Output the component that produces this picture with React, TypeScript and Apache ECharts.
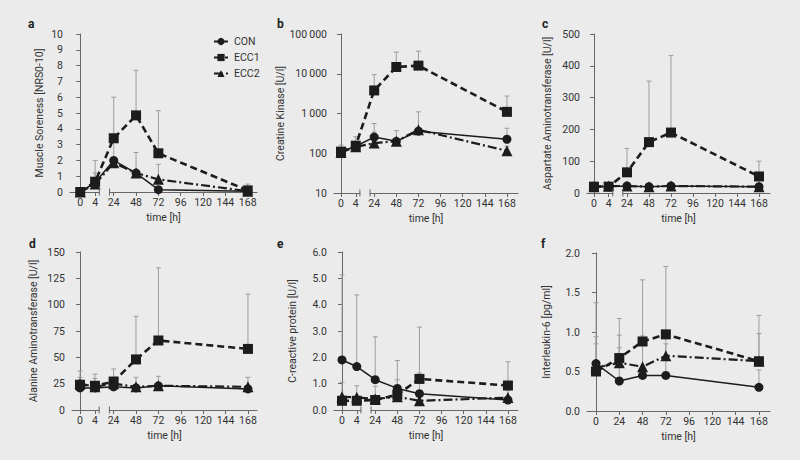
import React, { useEffect, useRef } from "react";
import * as echarts from "echarts";

// ---------- data ----------
const NAMES = ["CON", "ECC1", "ECC2"];
const TIMES = [0, 4, 24, 48, 72, 168];
const TIMES_F = [0, 24, 48, 72, 168];
const TICK_TIMES = [0, 4, 24, 48, 72, 96, 120, 144, 168];
const TICK_TIMES_F = [0, 24, 48, 72, 96, 120, 144, 168];

// a: Muscle soreness
const aCON = [0, 0.6, 2.0, 1.2, 0.15, 0.05];
const aECC1 = [0, 0.65, 3.4, 4.85, 2.45, 0.1];
const aECC2 = [0, 0.5, 1.85, 1.2, 0.8, 0.05];
const aErrCON = [null, 1.2, 3.6, 2.5, null, null];
const aErrECC1 = [null, 2.0, 6.0, 7.7, 5.15, 0.5];
const aErrECC2 = [null, null, null, null, 1.75, null];

// b: Creatine kinase
const bCON = [110, 150, 255, 200, 360, 225];
const bECC1 = [110, 155, 3800, 14800, 16000, 1100];
const bECC2 = [105, 145, 180, 200, 390, 115];
const bErrCON = [160, 260, 560, 370, 1100, 425];
const bErrECC1 = [null, null, 9500, 35000, 37000, 2750];
const bErrECC2 = [null, null, 340, null, null, 150];

// c: AST
const cCON = [20, 20, 22, 20, 22, 20];
const cECC1 = [20, 20, 65, 160, 190, 52];
const cECC2 = [20, 22, 22, 20, 22, 20];
const cErrCON = [null, null, null, null, null, null];
const cErrECC1 = [null, null, 140, 352, 432, 100];
const cErrECC2 = [null, null, null, null, null, null];

// d: ALT
const dCON = [21, 21, 22, 21, 23, 20];
const dECC1 = [24, 23, 27, 48, 66, 58];
const dECC2 = [25, 22, 25, 22, 23, 22];
const dErrCON = [31, 30, 31, 31, 32, 31];
const dErrECC1 = [37, 34, 39, 89, 135, 110];
const dErrECC2 = [null, null, null, null, null, null];

// e: CRP
const eCON = [1.9, 1.65, 1.15, 0.82, 0.62, 0.38];
const eECC1 = [0.35, 0.35, 0.38, 0.58, 1.18, 0.93];
const eECC2 = [0.5, 0.48, 0.42, 0.5, 0.35, 0.47];
const eErrCON = [5.13, 4.37, 2.78, 1.88, 1.4, null];
const eErrECC1 = [null, null, null, null, 3.15, 1.83];
const eErrECC2 = [1.05, 0.92, 0.9, 1.15, null, 0.75];

// f: IL-6
const fCON = [0.6, 0.38, 0.45, 0.45, 0.3];
const fECC1 = [0.5, 0.67, 0.88, 0.97, 0.63];
const fECC2 = [0.55, 0.61, 0.56, 0.7, 0.63];
const fErrCON = [0.85, 0.8, null, 0.85, 0.52];
const fErrECC1 = [1.37, 1.17, 1.66, 1.83, 1.21];
const fErrECC2 = [0.94, 0.96, 0.95, 0.98, 0.98];

// ---------- styling ----------
const BG = "#ebebeb";
const FONT = "Roboto";
const FS = 10.5;
const INK = "#1c1c1c";
const AXIS = "#666";
const TXT = "#333";

// broken time axis: 0..4 stretched, gap, then linear from 24
const brk = (t: number) => (t <= 4 ? t * 4 : 36 + (t - 24));
const lin = (t: number) => t;

type Panel = {
  label: string;
  yName: string;
  nameGap: number;
  grid: { left: number; top: number; width: number; height: number };
  xMin: number;
  xMax: number;
  broken: boolean;
  times: number[];
  ticks: number[];
  vals: number[][];
  errs: (number | null)[][];
  y: any;
  labelPos: [number, number];
};

const fmt1 = (v: number) => v.toFixed(1);
const fmtThousands = (v: number) =>
  String(Math.round(v)).replace(/\B(?=(\d{3})+(?!\d))/g, "\u2009");

const PANELS: Panel[] = [
  {
    label: "a", yName: "Muscle Soreness [NRS0-10]", nameGap: 25,
    grid: { left: 70, top: 34, width: 187, height: 158 }, xMin: -11, xMax: 190,
    broken: true, times: TIMES, ticks: TICK_TIMES,
    vals: [aCON, aECC1, aECC2], errs: [aErrCON, aErrECC1, aErrECC2],
    y: { type: "value", min: 0, max: 10, interval: 1 }, labelPos: [31, 25],
  },
  {
    label: "b", yName: "Creatine Kinase [U/l]", nameGap: 46,
    grid: { left: 334, top: 34, width: 184, height: 159 }, xMin: -7.6, xMax: 192,
    broken: true, times: TIMES, ticks: TICK_TIMES,
    vals: [bCON, bECC1, bECC2], errs: [bErrCON, bErrECC1, bErrECC2],
    y: { type: "log", logBase: 10, min: 10, max: 100000, axisLabel: { formatter: fmtThousands } },
    labelPos: [280, 25],
  },
  {
    label: "c", yName: "Aspartate Aminotransferase [U/l]", nameGap: 34,
    grid: { left: 587, top: 34, width: 183, height: 159 }, xMin: -7.6, xMax: 192,
    broken: true, times: TIMES, ticks: TICK_TIMES,
    vals: [cCON, cECC1, cECC2], errs: [cErrCON, cErrECC1, cErrECC2],
    y: { type: "value", min: 0, max: 500, interval: 100 }, labelPos: [545, 25],
  },
  {
    label: "d", yName: "Alanine Aminotransferase [U/l]", nameGap: 33,
    grid: { left: 72, top: 252, width: 185, height: 158 }, xMin: -8.6, xMax: 189.7,
    broken: true, times: TIMES, ticks: TICK_TIMES,
    vals: [dCON, dECC1, dECC2], errs: [dErrCON, dErrECC1, dErrECC2],
    y: { type: "value", min: 0, max: 150, interval: 25 }, labelPos: [32, 245],
  },
  {
    label: "e", yName: "C-reactive protein [U/l]", nameGap: 36,
    grid: { left: 334, top: 252, width: 184, height: 158 }, xMin: -8.7, xMax: 190.9,
    broken: true, times: TIMES, ticks: TICK_TIMES,
    vals: [eCON, eECC1, eECC2], errs: [eErrCON, eErrECC1, eErrECC2],
    y: { type: "value", min: 0, max: 6, interval: 1, axisLabel: { formatter: fmt1 } },
    labelPos: [280, 245],
  },
  {
    label: "f", yName: "Interleukin-6 [pg/ml]", nameGap: 35,
    grid: { left: 587, top: 253, width: 183, height: 158 }, xMin: -9.3, xMax: 179.4,
    broken: false, times: TIMES_F, ticks: TICK_TIMES_F,
    vals: [fCON, fECC1, fECC2], errs: [fErrCON, fErrECC1, fErrECC2],
    y: { type: "value", min: 0, max: 2, interval: 0.5, axisLabel: { formatter: fmt1 } },
    labelPos: [544, 245],
  },
];

const SYMBOLS = ["circle", "rect", "triangle"];
const SYM_SIZE = [9, 10, 11];
const LINE_STYLES: any[] = [
  { color: INK, width: 1.5, type: "solid" },
  { color: INK, width: 2.6, type: [7, 4] },
  { color: INK, width: 2.2, type: [9, 3, 2, 3] },
];

function buildOption() {
  const grid: any[] = [];
  const xAxis: any[] = [];
  const yAxis: any[] = [];
  const series: any[] = [];
  const graphic: any[] = [];

  PANELS.forEach((p, i) => {
    const xmap = p.broken ? brk : lin;
    grid.push({ ...p.grid, containLabel: false });
    const tickVals = p.ticks.map(xmap);
    xAxis.push({
      type: "value", gridIndex: i, min: p.xMin, max: p.xMax,
      name: "time [h]", nameLocation: "middle", nameGap: 20,
      nameTextStyle: { fontFamily: FONT, fontSize: FS, color: TXT },
      axisLine: { show: true, lineStyle: { color: AXIS, width: 1 } },
      axisTick: { show: true, customValues: tickVals, length: 4, lineStyle: { color: AXIS } },
      axisLabel: {
        customValues: tickVals, margin: 5, fontFamily: FONT, fontSize: FS, color: TXT,
        hideOverlap: false,
        formatter: (v: number) => {
          const idx = tickVals.findIndex((tv) => Math.abs(tv - v) < 1e-6);
          return idx >= 0 ? String(p.ticks[idx]) : "";
        },
      },
      splitLine: { show: false },
    });
    yAxis.push({
      ...p.y, gridIndex: i,
      name: p.yName, nameLocation: "middle", nameGap: p.nameGap,
      nameTextStyle: { fontFamily: FONT, fontSize: FS, color: TXT },
      axisLine: { show: true, lineStyle: { color: AXIS, width: 1 } },
      axisTick: { show: true, length: 4, lineStyle: { color: AXIS } },
      axisLabel: { margin: 7, fontFamily: FONT, fontSize: FS, color: TXT, ...(p.y.axisLabel || {}) },
      splitLine: { show: false },
      minorTick: { show: false },
    });

    // error bars first
    p.errs.forEach((errArr, k) => {
      const data: any[] = [];
      errArr.forEach((e, j) => {
        if (e != null) data.push([xmap(p.times[j]), p.vals[k][j], e]);
      });
      if (!data.length) return;
      series.push({
        type: "custom", name: "sd-" + p.label + k, xAxisIndex: i, yAxisIndex: i, z: 2,
        encode: { x: 0, y: [1, 2] }, data, silent: true,
        renderItem: (params: any, api: any) => {
          const x = api.value(0);
          const a = api.coord([x, api.value(1)]);
          const b = api.coord([x, api.value(2)]);
          const st = { stroke: "#9d9d9d", lineWidth: 1 };
          return {
            type: "group",
            children: [
              { type: "line", shape: { x1: a[0], y1: a[1], x2: b[0], y2: b[1] }, style: st },
              { type: "line", shape: { x1: b[0] - 2.5, y1: b[1], x2: b[0] + 2.5, y2: b[1] }, style: st },
            ],
          };
        },
      });
    });

    p.vals.forEach((vals, k) => {
      series.push({
        type: "line", name: NAMES[k], xAxisIndex: i, yAxisIndex: i, z: 3,
        data: p.times.map((t, j) => [xmap(t), vals[j]]),
        symbol: SYMBOLS[k], symbolSize: SYM_SIZE[k], showSymbol: true,
        lineStyle: LINE_STYLES[k], itemStyle: { color: INK },
        emphasis: { disabled: true },
      });
    });

    graphic.push({
      type: "text", left: p.labelPos[0] - 3, top: p.labelPos[1] - 7, z: 10,
      style: { text: p.label, fontFamily: FONT, fontSize: 12, fontWeight: "bold", fill: "#222" },
    });
  });

  return {
    animation: false,
    backgroundColor: BG,
    textStyle: { fontFamily: FONT },
    legend: {
      data: NAMES, orient: "vertical", left: 208, top: 31,
      itemWidth: 14, itemHeight: 9, itemGap: 5,
      textStyle: { fontFamily: FONT, fontSize: FS, color: TXT, padding: [0, 0, 0, 1] },
      selectedMode: false,
    },
    grid, xAxis, yAxis, series, graphic,
  };
}

export default function App() {
  const ref = useRef<HTMLDivElement>(null);
  useEffect(() => {
    document.body.style.margin = "0";
    document.body.style.background = BG;
    const chart = echarts.init(ref.current!, null, { renderer: "svg" });
    const option: any = buildOption();
    chart.setOption(option);
    // axis breaks
    const extra: any[] = [];
    PANELS.forEach((p, i) => {
      if (!p.broken) return;
      const yMin = p.y.min;
      const a = chart.convertToPixel({ gridIndex: i } as any, [20.5, yMin]) as number[];
      const b = chart.convertToPixel({ gridIndex: i } as any, [31.5, yMin]) as number[];
      extra.push({
        type: "rect", z: 50,
        shape: { x: a[0] + 0.5, y: a[1] - 2, width: b[0] - a[0] - 1, height: 4 },
        style: { fill: BG },
      });
      [a, b].forEach((pt) => {
        extra.push({
          type: "line", z: 51,
          shape: { x1: pt[0], y1: pt[1] - 3.5, x2: pt[0], y2: pt[1] + 3.5 },
          style: { stroke: AXIS, lineWidth: 1 },
        });
      });
    });
    chart.setOption({ graphic: [...option.graphic, ...extra] });
    return () => chart.dispose();
  }, []);
  return (
    <div
      ref={ref}
      style={{ position: "fixed", left: 0, top: 0, width: 800, height: 460, background: BG }}
    />
  );
}
